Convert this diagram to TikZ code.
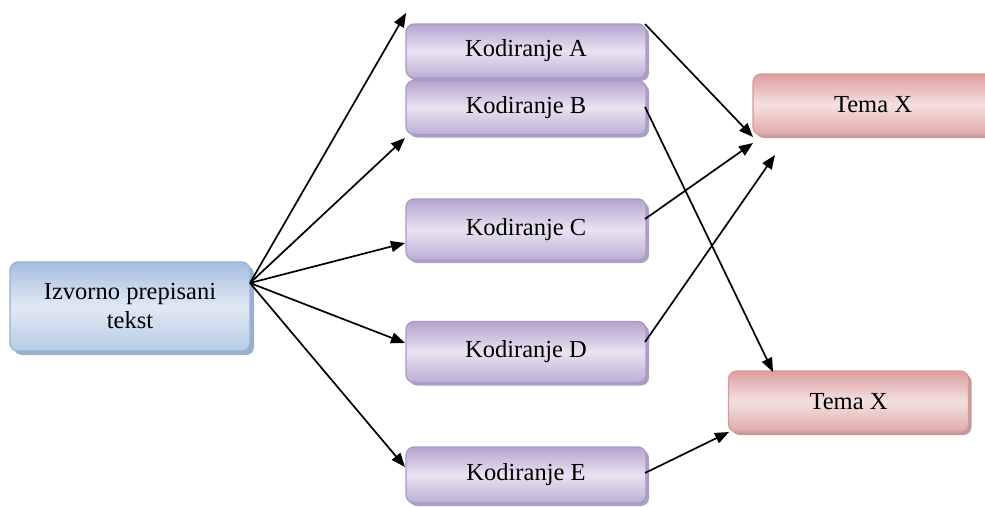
\documentclass[tikz,border=0pt]{standalone}
\usepackage{fontspec}
\setmainfont{Liberation Serif}
\usetikzlibrary{arrows.meta,shadows}
\definecolor{kbord}{HTML}{A899C8}
\definecolor{kdark}{HTML}{B5A4CF}
\definecolor{klight}{HTML}{E8E3F1}
\definecolor{kshad}{HTML}{A495BC}
\definecolor{tbord}{HTML}{D99A9A}
\definecolor{tdark}{HTML}{DE9E9E}
\definecolor{tlight}{HTML}{F4E0E0}
\definecolor{tshad}{HTML}{B89090}
\definecolor{sbord}{HTML}{95B3D7}
\definecolor{sdark}{HTML}{A5BEDE}
\definecolor{slight}{HTML}{E1E9F4}
\definecolor{sshad}{HTML}{8EA6C4}
\tikzset{
  box/.style={rounded corners=8pt, line width=1.2pt, inner sep=0pt, align=center,
    font=\fontsize{24.5}{29}\selectfont, text=black},
  kbox/.style={box, draw=kbord, top color=kdark, bottom color=kdark!85!klight, middle color=klight,
    minimum width=240pt, minimum height=54pt,
    drop shadow={shadow xshift=3pt, shadow yshift=-3pt, fill=kshad, opacity=0.9}},
  tbox/.style={box, draw=tbord, top color=tdark, bottom color=tdark!85!tlight, middle color=tlight,
    minimum width=240pt, minimum height=61pt,
    drop shadow={shadow xshift=3pt, shadow yshift=-3pt, fill=tshad, opacity=0.9}},
  sbox/.style={box, draw=sbord, top color=sdark, bottom color=sdark!70!slight, middle color=slight,
    minimum width=240pt, minimum height=89pt,
    drop shadow={shadow xshift=4pt, shadow yshift=-4pt, fill=sshad, opacity=0.9}},
  arr/.style={line width=1.7pt, -{Triangle[length=14pt,width=11pt]}}
}
\begin{document}
\begin{tikzpicture}[x=1pt,y=-1pt]
\useasboundingbox (0,0) rectangle (985,506);
\node[sbox] (src) at (130,306.5) {Izvorno prepisani\\tekst};
\node[kbox] (A) at (526,51) {Kodiranje A};
\node[kbox] (B) at (526,107.5) {Kodiranje B};
\node[kbox, minimum height=61pt] (C) at (526,229.5) {Kodiranje C};
\node[kbox, minimum height=61pt] (D) at (526,352) {Kodiranje D};
\node[kbox, minimum height=56pt] (E) at (526,475) {Kodiranje E};
\node[tbox] (T1) at (873,104.5) {Tema X};
\node[tbox] (T2) at (848.5,401.5) {Tema X};
% connector ends
\coordinate (hub) at (250,283);
\coordinate (tA) at (406,13);
\coordinate (tB) at (405,138);
\coordinate (tC) at (405,243);
\coordinate (tD) at (405,343);
\coordinate (tE) at (405,467);
\coordinate (sA) at (645,24);
\coordinate (sB) at (645,107);
\coordinate (sC) at (645,219);
\coordinate (sD) at (645,342);
\coordinate (sE) at (645,473);
\coordinate (t1a) at (753,137);
\coordinate (t1c) at (753,143);
\coordinate (t1d) at (775,155);
\coordinate (t2b) at (773,372);
\coordinate (t2e) at (729,432);
\draw[arr] (hub) -- (tA);
\draw[arr] (hub) -- (tB);
\draw[arr] (hub) -- (tC);
\draw[arr] (hub) -- (tD);
\draw[arr] (hub) -- (tE);
\draw[arr] (sA) -- (t1a);
\draw[arr] (sC) -- (t1c);
\draw[arr] (sD) -- (t1d);
\draw[arr] (sB) -- (t2b);
\draw[arr] (sE) -- (t2e);
\end{tikzpicture}
\end{document}
